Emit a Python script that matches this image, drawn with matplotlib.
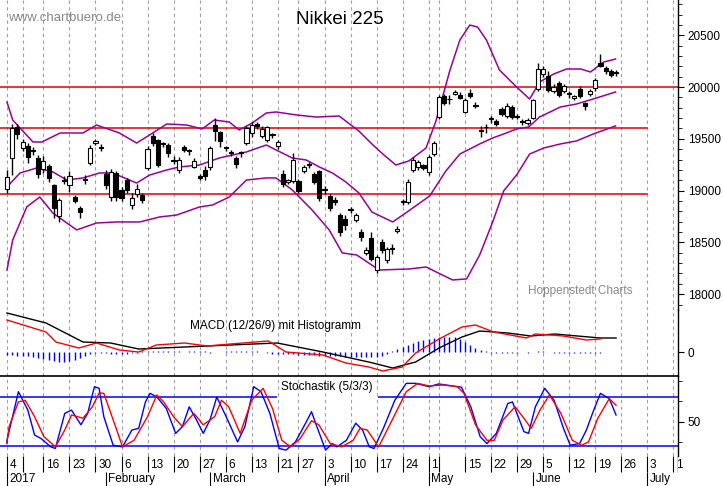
import numpy as np
import pandas as pd
import matplotlib
matplotlib.use("Agg")
import matplotlib.pyplot as plt

plt.rcParams["font.family"] = "Liberation Sans"

# ---------------- data ----------------
holidays = ["2017-01-09", "2017-03-20", "2017-05-03", "2017-05-04", "2017-05-05"]
trade_days = pd.bdate_range("2017-01-04", "2017-07-14").drop(pd.to_datetime(holidays))

opens = [19020,19310,19610,19410,19430,19380,19310,19210,19240,19050,
         18750,19090,19050,18940,18830,19100,19270,19460,19410,19160,
         18940,19170,19010,19100,18860,18970,18960,19220,19530,19490,
         19450,19440,19290,19200,19420,19380,19230,19140,19200,19230,
         19630,19570,19410,19360,19310,19360,19460,19560,19640,19530,
         19490,19540,19430,19160,19080,19090,19090,19190,19250,19160,
         19190,19010,18950,18910,18760,18730,18810,18720,18600,18400,
         18540,18230,18500,18330,18440,18610,18890,18890,19200,19230,
         19250,19180,19350,19710,19910,19880,19930,19920,19760,19940,
         19820,19580,19610,19690,19670,19790,19720,19810,19710,19660,
         19650,19700,19980,20130,20110,19960,20040,19960,19930,19890,
         19980,19850,19930,19990,20230,20180,20150,20140]
closes = [19130,19600,19545,19470,19320,19385,19160,19290,19120,18830,
          18910,19095,19140,18900,18790,19105,19410,19480,19415,19050,
          19180,18940,18930,19010,18930,19020,18910,19400,19460,19250,
          19455,19360,19295,19300,19390,19385,19290,19120,19140,19410,
          19580,19480,19415,19365,19260,19365,19600,19630,19620,19590,
          19610,19545,19470,19060,19100,19300,19000,19230,19255,19080,
          18930,19015,18830,18890,18600,18670,18815,18760,18550,18430,
          18340,18360,18430,18440,18445,18630,18895,19080,19300,19280,
          19220,19320,19460,19900,19850,19885,19950,19890,19870,19910,
          19825,19585,19615,19695,19640,19740,19820,19710,19715,19665,
          19680,19870,20170,20170,19970,20000,19920,20010,19935,19910,
          19910,19820,19960,20070,20200,20150,20120,20145]
highs = [19200,19640,19640,19500,19460,19420,19340,19330,19260,19060,
         18930,19140,19190,18960,18850,19150,19440,19500,19450,19200,
         19210,19190,19030,19120,18980,19060,18980,19430,19560,19500,
         19470,19460,19330,19320,19440,19400,19310,19160,19240,19430,
         19700,19580,19430,19390,19330,19380,19620,19660,19660,19620,
         19620,19560,19490,19200,19110,19360,19110,19250,19280,19180,
         19200,19040,18970,18940,18780,18760,18840,18780,18630,18460,
         18600,18380,18530,18460,18480,18660,18920,19110,19320,19300,
         19260,19340,19480,19920,19930,19920,19970,19950,19890,19980,
         19860,19620,19640,19720,19690,19810,19850,19830,19740,19690,
         19700,19880,20230,20200,20150,20030,20060,20030,19960,19920,
         20010,19860,19980,20090,20320,20200,20170,20160]
lows = [18980,19150,19500,19380,19270,19340,19120,19170,19080,18740,
        18700,19060,18990,18880,18740,19060,19250,19440,19380,19020,
        18900,18900,18900,18980,18820,18940,18880,19200,19430,19230,
        19420,19320,19260,19170,19370,19340,19220,19100,19100,19200,
        19480,19420,19380,19330,19220,19320,19440,19520,19590,19510,
        19470,19510,19400,19030,19060,19070,18980,19170,19220,19060,
        18900,18970,18800,18860,18560,18620,18780,18700,18510,18380,
        18320,18200,18400,18300,18390,18590,18860,18870,19180,19200,
        19200,19150,19330,19690,19830,19840,19920,19880,19750,19890,
        19800,19520,19560,19650,19620,19720,19700,19690,19690,19630,
        19630,19690,19960,20100,19950,19940,19900,19940,19890,19870,
        19890,19780,19910,19960,20190,20130,20100,20110]

upper_day = [0,1.1,5.0,6.7,10.2,14.6,17.2,21.6,24.9,27.4,30.7,34.5,37.5,39.8,42.7,44.6,47.1,49.8,51.7,55.6,59.4,63.8,67.6,70.1,72.2,74.7,77.2,80.5,82.4,85.1,87.0,88.9,90.4,92.1,94.6,97.9,100.4,102.3,105.0,107.5,110.2,112.1,114.6,116.9]
upper_val = [19855,19681,19469,19469,19556,19556,19633,19556,19459,19537,19643,19633,19595,19681,19662,19585,19652,19749,19759,19730,19710,19720,19575,19450,19353,19247,19286,19411,19672,20164,20454,20598,20579,20454,20164,20000,19884,20048,20125,20174,20174,20145,20241,20270]
mid_day = [0,2.5,5.7,8.8,11.5,14.6,17.8,20.3,24.9,27.4,30.7,33.1,37.0,40.8,46.0,49.8,51.7,54.8,57.5,60.0,62.5,65.1,67.6,70.1,74.1,76.6,81.2,84.3,87.0,90.8,93.3,95.4,97.9,100.2,102.3,106.3,109.4,112.6,116.9]
mid_val = [19035,19170,19218,19180,19102,19122,19170,19170,19073,19150,19199,19228,19247,19315,19373,19440,19392,19315,19295,19228,19170,19083,18977,18793,18697,18784,18948,19189,19353,19450,19508,19546,19595,19614,19710,19807,19836,19884,19952]
lower_day = [0,1.1,3.8,6.3,8.8,11.5,13.4,17.2,21.1,25.5,29.3,32.6,37.0,39.5,42.7,46.0,49.8,51.7,54.8,58.6,61.9,64.4,67.2,71.5,77.2,80.5,85.6,88.3,90.8,93.3,95.4,97.9,100.4,103.1,106.3,109.4,112.6,116.9]
lower_val = [18233,18523,18842,18938,18784,18687,18620,18687,18697,18697,18745,18764,18842,18861,18938,19102,19122,19122,19006,18813,18620,18398,18378,18233,18243,18262,18137,18147,18378,18697,18996,19151,19353,19411,19450,19479,19546,19624]
support_levels = [20000, 19600, 18970]

signal_day = [0,7.5,14.6,19.9,25.3,34.1,42.9,51.9,60.7,69.5,74.1,78.5,83,87.4,90.8,96.2,100.6,105.2,109.6,114,117]
signal_val = [195,145,50,45,15,25,35,45,0,-50,-80,-50,20,75,105,95,80,90,80,70,70]
macd_day = [0,7.5,9.4,13.8,17.2,21.6,25.3,28.7,34.1,38.5,42.9,50.2,53.6,60.7,65.1,69.5,72.2,75.9,78.5,83,87.4,90,93.5,99.8,101.5,106.9,111.3,114]
macd_val = [160,100,50,20,45,10,0,35,45,30,40,55,0,-15,-55,-75,-95,-75,-5,65,125,135,100,70,90,80,60,65]
hist = [-15,-15,-20,-20,-20,-25,-30,-35,-40,-45,
        -50,-50,-45,-40,-30,-20,-10,-5,-5,-5,
        -10,-10,-10,-10,-5,-5,5,5,5,5,
        5,5,5,5,0,5,5,5,5,-5,
        0,0,5,5,5,5,5,5,5,0,
        -5,-10,-10,-10,-10,-10,-15,-15,-15,-15,
        -20,-20,-20,-20,-20,-25,-25,-25,-25,-25,
        -25,-25,-20,-10,5,15,25,35,45,55,
        60,65,70,75,75,75,75,65,50,35,
        20,10,5,-5,-5,-5,-5,-5,-5,0,
        -5,0,5,5,0,-5,-5,-5,-5,-5,
        -5,-5,-5,-5,-5,0,0,0]

k_day = [0,0,2.2,4,5.3,6.6,8.4,9.3,11.1,12.4,14.2,15.5,16.8,17.7,18.6,20.4,22.2,24,25.3,26.6,27.5,28.8,30.6,32.4,33.7,35,36.4,37.7,39,40.3,42.1,44.3,45.7,47.4,48.8,50.5,52.3,53.6,55.4,57.2,58.5,59.4,61.2,62.5,63.4,65.2,67,68.3,69.6,70.5,72.3,74.5,76.7,78.5,81.1,82.9,87.3,89.1,90.9,92.2,94,96.2,97.1,99.3,100.2,101.5,103.3,105.1,106.9,108.2,110,111.3,112.6,114,115.7,117]
k_val = [23,27,86.5,64,33.5,29,19,17,60,64,46,60,92.6,90.6,56,21,19,39.6,41.6,74,84.5,80,66,35.5,43.7,68,52,35.5,52,80,56,25,43.7,92.6,86.5,60,17,15,25,46,62,46,15,23,19,27,48,39.6,19,17,41.6,76,96.7,96.7,92.6,96,92,68,31.4,23,35.5,72,74,37.6,35.5,68,90.6,76,41.6,21,23,39.6,62,84.5,78,58]
d_day = [0,0.4,2.2,3.5,5.3,7.1,9.3,11.1,12.4,14.6,16.4,17.7,18.6,20.4,22.2,24.4,27,28.8,30.1,32,33.7,35.9,37.7,39.9,41.2,42.6,44.8,47,49.2,51,52.8,54.5,56.3,58.5,59.9,62.1,64.3,66.5,67.8,69.2,71.4,74,76.7,78.9,81.1,83.8,86.5,87.8,90,92.2,93.6,95.3,97.6,99.3,100.7,102.4,104.2,106.4,108.6,110.4,111.7,113.5,115.7,117]
d_val = [25,43.7,74,76,56,31.4,19,39.6,58,54,68,85,84.5,52,19,27,56,82.5,74,56,43.7,60,46,56,76,68,35.5,76,90.6,66,27,19,29,51,46,23,19,27,41.6,39.6,19,52,86.5,96.7,93.5,94.7,92.6,84.5,46,27,27,52,68,54,41.6,64,82.5,60,27,21,25,54,78,70]

week_dates = ["2017-01-04","2017-01-10","2017-01-16","2017-01-23","2017-01-30","2017-02-06","2017-02-13",
              "2017-02-20","2017-02-27","2017-03-06","2017-03-13","2017-03-21","2017-03-27","2017-04-03",
              "2017-04-10","2017-04-17","2017-04-24","2017-05-01","2017-05-08","2017-05-15","2017-05-22",
              "2017-05-29","2017-06-05","2017-06-12","2017-06-19","2017-06-26","2017-07-03","2017-07-10"]
week_labels = ["4","","16","23","30","6","13","20","27","6","13","21","27","3","10","17","24","1","",
               "15","22","29","5","12","19","26","3","1"]
month_dates = ["2017-01-04","2017-02-01","2017-03-01","2017-04-03","2017-05-01","2017-06-01","2017-07-03"]
month_labels = ["2017","February","March","April","May","June","July"]

# ---------------- figure ----------------
W, H = 723, 486
fig = plt.figure(figsize=(W/100, H/100), dpi=100)
xl = (-1.34, 128.9)
axw = 678/W

def pos(d):
    return trade_days.get_loc(pd.Timestamp(d))

def xfrac(px):
    return xl[0] + px / 678 * (xl[1] - xl[0])

week_idx = [pos(d) for d in week_dates]
month_idx = [pos(d) for d in month_dates]

ax = fig.add_axes([0, 1-310/H, axw, 310/H])
axm = fig.add_axes([0, 1-376/H, axw, 66/H])
axs = fig.add_axes([0, 1-456/H, axw, 80/H])
axd = fig.add_axes([0, 0, axw, 30/H])

grid_kw = dict(color="#a0a0a0", lw=0.8, ls=(0, (3, 3)), zorder=0)
for a in (ax, axm, axs):
    a.set_xlim(*xl)
    a.patch.set_alpha(0)
    for s in ("left", "top", "bottom"):
        a.spines[s].set_visible(False)
    a.spines["right"].set_linewidth(1)
    a.yaxis.tick_right()
    a.tick_params(axis="y", direction="out", length=4, labelsize=8.5, pad=3)
    a.set_xticks([])
    for wi in week_idx:
        a.axvline(wi, **grid_kw)

# main price panel
ax.set_ylim(17847, 20840)
ax.set_yticks([18000, 18500, 19000, 19500, 20000, 20500])
ax.set_yticks(np.arange(17900, 20850, 100), minor=True)
ax.tick_params(axis="y", which="minor", direction="out", length=3)
for k, lv in enumerate(support_levels):
    ax.axhline(lv, xmin=0, xmax=1.0 if k == 0 else 647/678, color="#dd0000", lw=1.1, zorder=1)
purple = "#9a0099"
ax.plot(upper_day, upper_val, color=purple, lw=1.1, zorder=2)
ax.plot(mid_day, mid_val, color=purple, lw=1.1, zorder=2)
ax.plot(lower_day, lower_val, color=purple, lw=1.1, zorder=2)
idx = np.arange(len(opens))
o = np.array(opens); c = np.array(closes)
ax.vlines(idx, lows, highs, color="black", lw=1, zorder=3)
bottoms = np.minimum(o, c)
heights = np.maximum(np.abs(c - o), 8)
colors = np.where(c > o + 5, "white", "black")
ax.bar(idx, heights, bottom=bottoms, width=0.8, color=colors, edgecolor="black", lw=0.8, zorder=4)

fig.text(8/W, 1-18/H, "www.chartbuero.de", color="#888888", fontsize=9.5, va="center")
fig.text(340/W, 1-20/H, "Nikkei 225", color="black", fontsize=13.5, ha="center", va="center")
fig.text(580/W, 1-291/H, "Hoppenstedt Charts", color="#888888", fontsize=8.5, ha="center", va="center")

# MACD panel
axm.set_ylim(-120, 210)
axm.set_yticks([0])
axm.vlines(idx, 0, hist, color="#0000ff", lw=1, zorder=2)
axm.plot(signal_day, signal_val, color="black", lw=1, zorder=3)
axm.plot(macd_day, macd_val, color="#ff0000", lw=1, zorder=3)
axm.text(xfrac(275), 130, "MACD (12/26/9) mit Histogramm", fontsize=8.5, ha="center", va="center")

# Stochastics panel
axs.set_ylim(7.8, 105.7)
axs.set_yticks([50])
axs.set_yticks([25, 75, 100], minor=True)
axs.tick_params(axis="y", which="minor", direction="out", length=3)
axs.spines["top"].set_visible(True)
axs.spines["top"].set_linewidth(1.2)
axs.hlines(80, xl[0], xfrac(277), color="#0000ff", lw=1.1, zorder=1)
axs.hlines(80, xfrac(378), xl[1], color="#0000ff", lw=1.1, zorder=1)
axs.axhline(20, color="#0000ff", lw=1.1, zorder=1)
axs.plot(k_day, k_val, color="#0000ff", lw=1, zorder=3)
axs.plot(d_day, d_val, color="#ff0000", lw=1, zorder=3)
axs.text(xfrac(327), 92, "Stochastik (5/3/3)", fontsize=8.5, ha="center", va="center", zorder=4)

# date row
axd.set_xlim(*xl)
axd.set_ylim(30, 0)
axd.axis("off")
for wi, lab in zip(week_idx, week_labels):
    axd.vlines(wi, 0, 16, color="black", lw=0.8)
    axd.text(wi + 0.5, 9, lab, fontsize=8.5, ha="left", va="center", clip_on=False)
for mi, lab in zip(month_idx, month_labels):
    axd.vlines(mi, 16, 30, color="black", lw=0.8)
    axd.text(mi + 0.5, 23, lab, fontsize=8.5, ha="left", va="center", clip_on=False)
axd.vlines(xl[1], 0, 16, color="black", lw=1)

fig.savefig("out.png", dpi=100)
